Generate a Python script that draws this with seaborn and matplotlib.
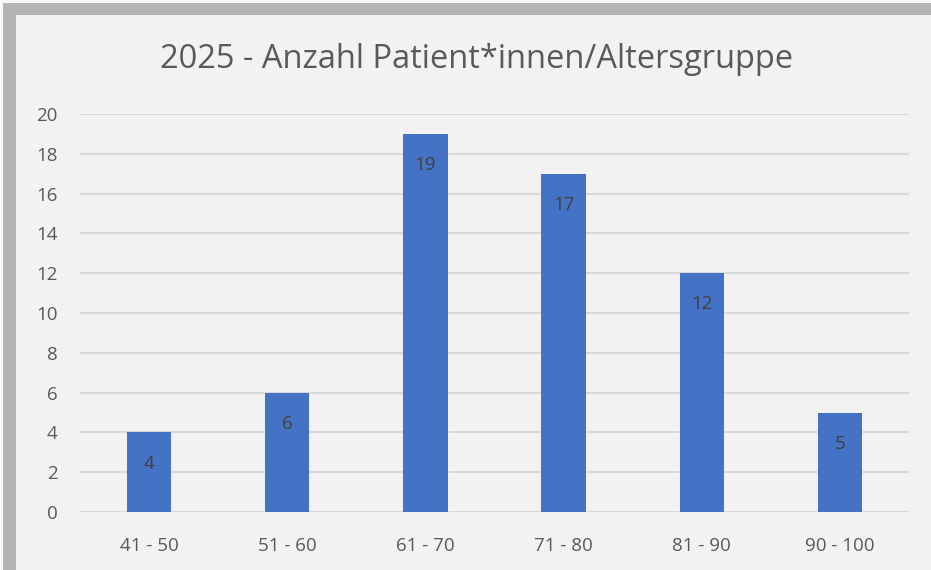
import matplotlib.pyplot as plt
import matplotlib.patches as mpatches
import seaborn as sns
import pandas as pd

altersgruppen = ["41 - 50", "51 - 60", "61 - 70", "71 - 80", "81 - 90", "90 - 100"]
anzahl = [4, 6, 19, 17, 12, 5]
y_ticks = [0, 2, 4, 6, 8, 10, 12, 14, 16, 18, 20]

df = pd.DataFrame({"Altersgruppe": altersgruppen, "Anzahl": anzahl})

sns.set_style("white")
plt.rcParams["font.family"] = ["Open Sans", "DejaVu Sans"]

fig = plt.figure(figsize=(9.31, 5.70), dpi=100)
fig.patch.set_facecolor("#f8f8f8")

# weicher Schatten + Diagrammfläche
for i, c in enumerate(["#eeeeee", "#e2e2e2", "#d2d2d2", "#c2c2c2", "#b4b4b4"]):
    off = 11 - i * 2
    fig.add_artist(mpatches.Rectangle((off / 931, 0), 1, 1 - off / 570,
                                      transform=fig.transFigure,
                                      facecolor=c, edgecolor="none", zorder=0))
fig.add_artist(mpatches.Rectangle((16 / 931, 0), 1, 1 - 15 / 570,
                                  transform=fig.transFigure,
                                  facecolor="#f2f2f2", edgecolor="none", zorder=0))

ax = fig.add_axes([80 / 931, 1 - 512 / 570, 829 / 931, 398 / 570])
ax.set_facecolor("none")

sns.barplot(data=df, x="Altersgruppe", y="Anzahl", color="#4472c4",
            width=0.32, saturation=1, linewidth=0, ax=ax, zorder=3)

ax.set_ylim(0, 20)
ax.set_yticks(y_ticks)
ax.yaxis.grid(True, color="#d9d9d9", linewidth=1.5, zorder=0)
ax.set_axisbelow(True)
for s in ax.spines.values():
    s.set_visible(False)
ax.set_xlabel("")
ax.set_ylabel("")
ax.tick_params(axis="both", length=0, labelsize=13.5, labelcolor="#595959")
ax.tick_params(axis="y", pad=16)
ax.tick_params(axis="x", pad=18)

for p, v in zip(ax.patches, anzahl):
    ax.annotate(str(v), (p.get_x() + p.get_width() / 2, v),
                xytext=(0, -22.5), textcoords="offset points",
                ha="center", va="center", fontsize=13.5, color="#404040", zorder=4)

fig.text(477 / 931, 1 - 60 / 570, "2025 - Anzahl Patient*innen/Altersgruppe",
         ha="center", va="center", fontsize=23.5, color="#595959")

fig.savefig("out.png", dpi=100, facecolor=fig.get_facecolor())
